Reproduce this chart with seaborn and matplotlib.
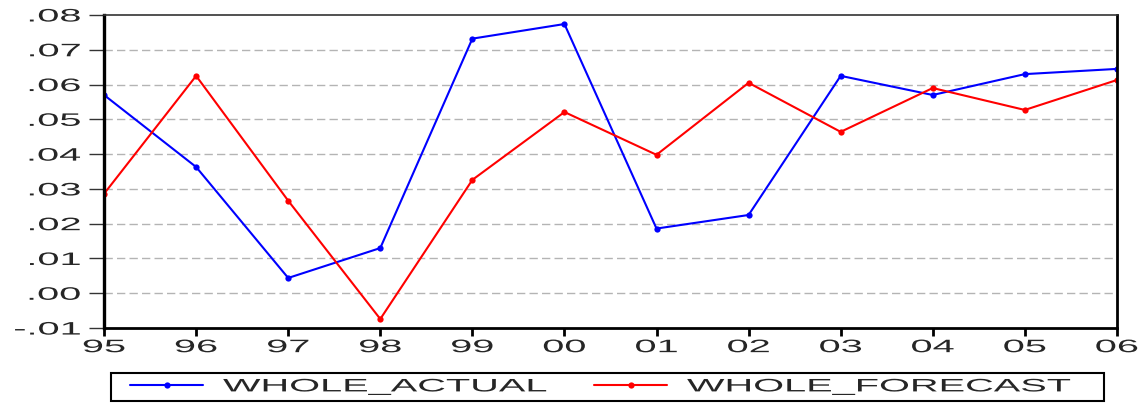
import pandas as pd
import numpy as np
import matplotlib.pyplot as plt
import matplotlib.ticker as mticker
import matplotlib.patheffects as pe
from matplotlib.patches import Rectangle
from matplotlib.transforms import Affine2D
import seaborn as sns

# Data
years = ['95', '96', '97', '98', '99', '00', '01', '02', '03', '04', '05', '06']
whole_actual = [0.0570, 0.0363, 0.0044, 0.0130, 0.0732, 0.0774, 0.0186, 0.0225,
                0.0625, 0.0570, 0.0630, 0.0645]
whole_forecast = [0.0286, 0.0625, 0.0266, -0.0074, 0.0326, 0.0521, 0.0398, 0.0605,
                  0.0464, 0.0590, 0.0527, 0.0613]

df = pd.DataFrame({
    'pos': list(range(len(years))) * 2,
    'value': whole_actual + whole_forecast,
    'series': ['WHOLE_ACTUAL'] * len(years) + ['WHOLE_FORECAST'] * len(years),
})


# the original uses a horizontally stretched font; widen glyphs at draw time
class Stretch(pe.AbstractPathEffect):
    def __init__(self, sx, anchor='center'):
        super().__init__()
        self.sx = sx
        self.anchor = anchor

    def draw_path(self, renderer, gc, tpath, affine, rgbFace=None):
        ext = tpath.get_extents()
        if self.anchor == 'center':
            a = (ext.x0 + ext.x1) / 2
        elif self.anchor == 'right':
            a = ext.x1
        else:
            a = 0
        tr = Affine2D().translate(-a, 0).scale(self.sx, 1).translate(a, 0) + affine
        renderer.draw_path(gc, tpath, tr, rgbFace)


SX = 2.2
FS = 13

sns.set_style('white')
plt.rcParams['font.family'] = ['Liberation Sans', 'DejaVu Sans']

fig = plt.figure(figsize=(11.46, 4.05), dpi=100)
ax = fig.add_axes([0.0908, 0.19, 0.8838, 0.773])

sns.lineplot(data=df, x='pos', y='value', hue='series',
             palette={'WHOLE_ACTUAL': '#0000ff', 'WHOLE_FORECAST': '#ff0000'},
             marker='o', markersize=4.5, markeredgewidth=0, linewidth=1.5, ax=ax)

ax.set_xlim(0, len(years) - 1)
ax.set_ylim(-0.01, 0.08)
ax.set_xticks(range(len(years)))
ax.set_xticklabels(years)
ax.set_yticks(np.arange(-0.01, 0.081, 0.01))
ax.yaxis.set_major_formatter(mticker.FuncFormatter(
    lambda v, p: ('-' if v < -1e-9 else '') + ('%.2f' % abs(v)).lstrip('0')))
ax.set_xlabel('')
ax.set_ylabel('')

# dashed grid lines at interior ticks
for v in np.arange(0.0, 0.071, 0.01):
    ax.axhline(v, color='#b4b4b4', linestyle=(0, (6, 3)), linewidth=1, zorder=0)

ax.tick_params(axis='x', bottom=True, direction='out', length=6, width=2,
               labelsize=FS, color='black', pad=2)
ax.tick_params(axis='y', left=True, direction='out', length=11, width=1,
               labelsize=FS, color='#333333', pad=6)
for lab in ax.get_xticklabels():
    lab.set_path_effects([Stretch(SX, 'center')])
for lab in ax.get_yticklabels():
    lab.set_path_effects([Stretch(SX, 'right')])

ax.spines['left'].set_linewidth(2.4)
ax.spines['bottom'].set_linewidth(2.0)
ax.spines['right'].set_linewidth(2.0)
for side in ['left', 'bottom', 'right']:
    ax.spines[side].set_color('black')
ax.spines['top'].set_linewidth(1.2)
ax.spines['top'].set_color('#333333')

ax.get_legend().remove()
handles, labels = ax.get_legend_handles_labels()
fs_px = FS * 100 / 72
for h, l, x0 in zip(handles, labels, [130, 594]):
    leg = fig.legend([h], [l], loc='center left',
                     bbox_to_anchor=(x0 / 1146, (405 - 387) / 405),
                     frameon=False, fontsize=FS, handlelength=73 / fs_px,
                     handletextpad=20 / fs_px, borderpad=0, borderaxespad=0,
                     numpoints=1)
    for t in leg.get_texts():
        t.set_path_effects([Stretch(SX, 'left')])
fig.patches.append(Rectangle((111 / 1146, 4 / 405), 993 / 1146, 28 / 405,
                             transform=fig.transFigure, fill=False,
                             edgecolor='black', linewidth=1.5))

fig.savefig('out.png', dpi=100)
